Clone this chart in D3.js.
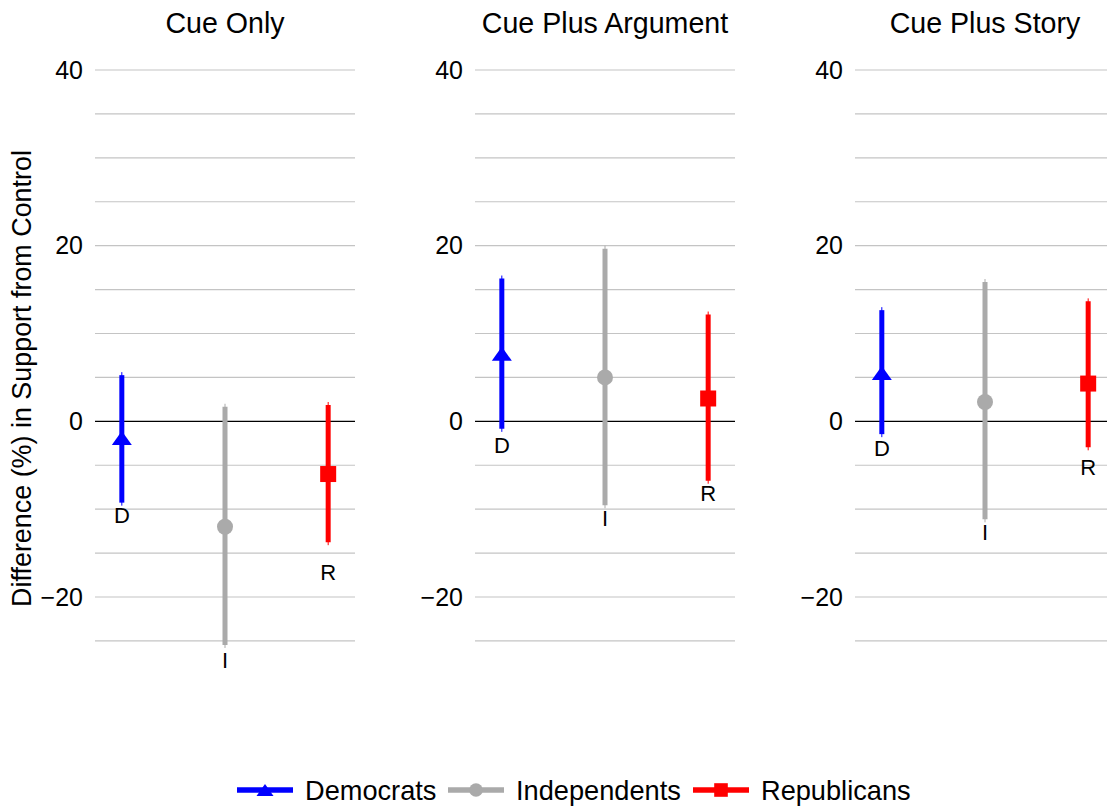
<!DOCTYPE html>
<html>
<head>
<meta charset="utf-8">
<script src="https://cdn.jsdelivr.net/npm/d3@7"></script>
<style>
  html, body { margin: 0; padding: 0; background: #fff; }
  svg { display: block; font-family: "Liberation Sans", Arial, Helvetica, sans-serif; }
</style>
</head>
<body>
<svg id="chart" width="1107" height="806"></svg>
<script>
// Experimental conditions (one panel each) and party groups
const conditions = ["Cue Only", "Cue Plus Argument", "Cue Plus Story"];
const parties = ["Democrats", "Independents", "Republicans"];
const partyCodes = ["D", "I", "R"];
const partyColors = ["#0000ff", "#aaaaaa", "#ff0000"];
const partyShapes = ["triangle", "circle", "square"];

// Estimated difference (%) from control, rows = conditions, cols = parties
const estimates = [
  [-1.9, -12.0, -6.0],
  [7.7, 5.0, 2.6],
  [5.5, 2.2, 4.3]
];
const lowerCI = [
  [-9.6, -25.8, -14.1],
  [-1.2, -9.9, -7.1],
  [-1.8, -11.5, -3.3]
];
const upperCI = [
  [5.6, 2.0, 2.2],
  [16.6, 20.0, 12.5],
  [13.0, 16.2, 14.0]
];
// Where each party's letter tag sits (in % units)
const tagValues = [
  [-10.7, -27.2, -17.2],
  [-2.7, -11.0, -8.2],
  [-3.1, -12.6, -5.2]
];

const yTicks = [-20, 0, 20, 40];
const gridValues = [-25, -20, -15, -10, -5, 5, 10, 15, 20, 25, 30, 35, 40];

const svg = d3.select("#chart");

const panelLeft = [95, 475, 855];
const panelWidth = 260;

const y = d3.scaleLinear().domain([-20, 40]).range([597, 70]);
const x = d3.scalePoint().domain(partyCodes).range([0, panelWidth]).padding(0.26);

function drawShape(g, shape, color, cx, cy, s) {
  if (shape === "triangle") {
    g.append("path")
      .attr("d", `M${cx - 10 * s},${cy + 7 * s} L${cx + 10 * s},${cy + 7 * s} L${cx},${cy - 7 * s} Z`)
      .attr("fill", color);
  } else if (shape === "circle") {
    g.append("circle").attr("cx", cx).attr("cy", cy).attr("r", 8 * s).attr("fill", color);
  } else {
    g.append("rect").attr("x", cx - 8 * s).attr("y", cy - 8 * s)
      .attr("width", 16 * s).attr("height", 16 * s).attr("fill", color);
  }
}

conditions.forEach((cond, ci) => {
  const g = svg.append("g").attr("transform", `translate(${panelLeft[ci]},0)`);

  // Panel title
  g.append("text")
    .attr("x", panelWidth / 2).attr("y", 33)
    .attr("text-anchor", "middle")
    .attr("font-size", 28.6)
    .attr("fill", "#000")
    .text(cond);

  // Horizontal grid
  g.selectAll("line.grid").data(gridValues).enter().append("line")
    .attr("class", "grid")
    .attr("x1", 0).attr("x2", panelWidth)
    .attr("y1", d => y(d)).attr("y2", d => y(d))
    .attr("stroke", "#c4c4c4").attr("stroke-width", 1.2);

  // Zero reference line
  g.append("line")
    .attr("x1", 0).attr("x2", panelWidth)
    .attr("y1", y(0)).attr("y2", y(0))
    .attr("stroke", "#000").attr("stroke-width", 1.2);

  // Y tick labels
  const axis = d3.axisLeft(y).tickValues(yTicks).tickSize(0).tickPadding(12)
    .tickFormat(d => d < 0 ? "\u2212" + Math.abs(d) : String(d));
  const ag = g.append("g").call(axis);
  ag.select(".domain").remove();
  ag.selectAll("text").attr("font-size", 25).attr("fill", "#000")
    .attr("font-family", "'Liberation Sans', Arial, Helvetica, sans-serif");

  // Point ranges
  partyCodes.forEach((code, pi) => {
    const cx = x(code);
    const color = partyColors[pi];
    const yl = y(lowerCI[ci][pi]);
    const yu = y(upperCI[ci][pi]);
    g.append("line")
      .attr("x1", cx).attr("x2", cx).attr("y1", yu).attr("y2", yl)
      .attr("stroke", color).attr("stroke-width", 1);
    g.append("line")
      .attr("x1", cx).attr("x2", cx).attr("y1", yu + 3).attr("y2", yl - 3)
      .attr("stroke", color).attr("stroke-width", 5);
    drawShape(g, partyShapes[pi], color, cx, y(estimates[ci][pi]), 1);
    g.append("text")
      .attr("x", cx).attr("y", y(tagValues[ci][pi]))
      .attr("dy", "0.36em")
      .attr("text-anchor", "middle")
      .attr("font-size", 22)
      .attr("fill", "#000")
      .text(code);
  });
});

// Y-axis title
svg.append("text")
  .attr("transform", `translate(31,${(150 + 607) / 2}) rotate(-90)`)
  .attr("text-anchor", "middle")
  .attr("font-size", 26.9)
  .attr("fill", "#000")
  .text("Difference (%) in Support from Control");

// Legend
const legendX = [237, 448, 693];
const legendY = 790;
parties.forEach((p, i) => {
  const lg = svg.append("g").attr("transform", `translate(${legendX[i]},${legendY})`);
  lg.append("line").attr("x1", 0).attr("x2", 56).attr("y1", 0).attr("y2", 0)
    .attr("stroke", partyColors[i]).attr("stroke-width", 5.5);
  drawShape(lg, partyShapes[i], partyColors[i], 28, 0, 0.85);
  lg.append("text")
    .attr("x", 68).attr("y", 0).attr("dy", "0.36em")
    .attr("font-size", 27.2).attr("fill", "#000")
    .text(p);
});
</script>
</body>
</html>
